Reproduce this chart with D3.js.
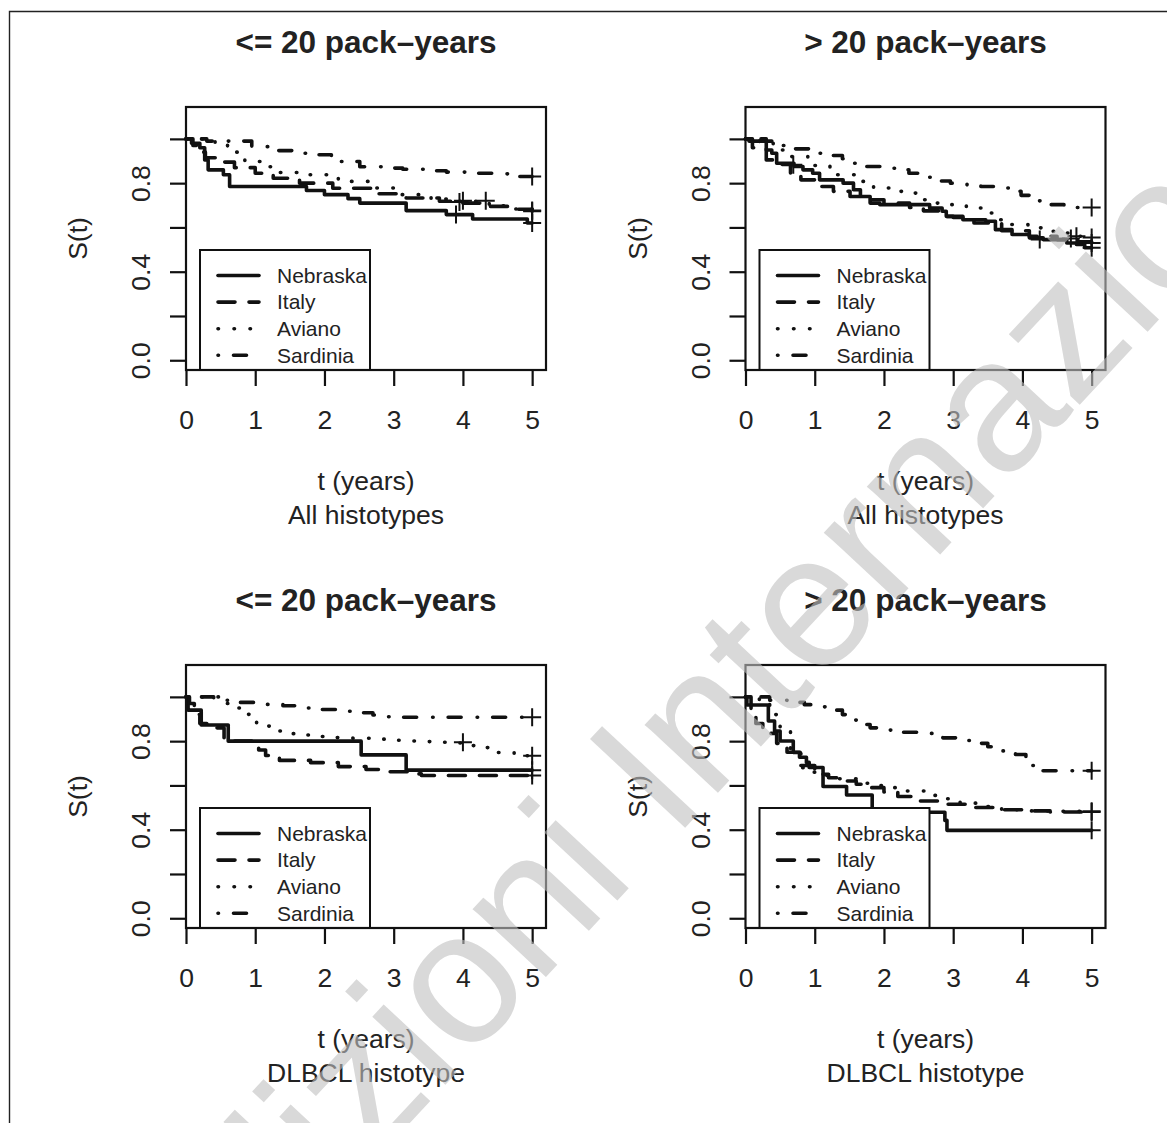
<!DOCTYPE html>
<html>
<head>
<meta charset="utf-8">
<script src="https://cdn.jsdelivr.net/npm/d3@7"></script>
<style>
  body { margin: 0; background: #fff; }
  text { font-family: "Liberation Sans", Arial, Helvetica, sans-serif; fill: #222; }
</style>
</head>
<body>
<svg id="chart" width="1167" height="1123"></svg>
<script>
(function(){
    "use strict";

    // ---- data ----
    var seriesNames = ["Nebraska", "Italy", "Aviano", "Sardinia"];
    var panelTitles = ["<= 20 pack\u2013years", "> 20 pack\u2013years", "<= 20 pack\u2013years", "> 20 pack\u2013years"];
    var panelSubtitles = ["All histotypes", "All histotypes", "DLBCL histotype", "DLBCL histotype"];
    var xTicks = [0, 1, 2, 3, 4, 5];
    var yTicks = [0, 0.2, 0.4, 0.6, 0.8, 1.0];
    var yTickLabels = [0, 0.4, 0.8];

    // all histotypes, <= 20 pack-years
    var allLe20Nebraska = [[0,1],[0.08,0.98],[0.2,0.96],[0.27,0.905],[0.32,0.86],[0.54,0.838],[0.63,0.785],[1.74,0.767],[2.0,0.748],[2.34,0.73],[2.51,0.71],[3.18,0.676],[3.76,0.658],[4.14,0.638],[4.93,0.62],[5,0.62]];
    var allLe20Italy = [[0,1],[0.1,0.97],[0.2,0.94],[0.28,0.915],[0.45,0.895],[0.7,0.87],[1.0,0.845],[1.26,0.822],[1.64,0.8],[2.12,0.777],[2.7,0.752],[3.18,0.733],[3.66,0.718],[3.95,0.71],[4.38,0.695],[4.7,0.682],[5,0.673]];
    var allLe20Aviano = [[0,1],[0.42,0.973],[0.6,0.94],[0.85,0.898],[1.07,0.874],[1.28,0.848],[1.74,0.838],[2.2,0.808],[2.65,0.778],[3.08,0.748],[3.54,0.728],[3.95,0.718],[4.38,0.698],[4.67,0.683],[5,0.677]];
    var allLe20Sardinia = [[0,1],[0.3,0.99],[0.95,0.965],[1.26,0.947],[1.6,0.935],[1.91,0.928],[2.1,0.915],[2.22,0.898],[2.51,0.874],[2.85,0.868],[3.13,0.863],[3.47,0.856],[3.76,0.85],[4.14,0.845],[4.43,0.842],[4.74,0.83],[5,0.83]];
    var allLe20Censored = [[[3.9,0.658],[5,0.62]], [[3.95,0.715],[5,0.673]], [[4.0,0.72],[4.33,0.72],[5,0.677]], [[5,0.83]]];

    // all histotypes, > 20 pack-years
    var allGt20Nebraska = [[0,1],[0.05,0.99],[0.3,0.95],[0.38,0.935],[0.45,0.89],[0.7,0.875],[0.83,0.86],[0.97,0.845],[1.07,0.815],[1.41,0.8],[1.56,0.77],[1.66,0.74],[1.8,0.71],[1.94,0.703],[2.66,0.688],[2.84,0.673],[2.9,0.65],[3.14,0.635],[3.47,0.628],[3.61,0.59],[3.85,0.568],[4.1,0.553],[4.3,0.545],[4.64,0.53],[4.78,0.523],[4.9,0.508],[5,0.508]];
    var allGt20Italy = [[0,1],[0.1,0.96],[0.3,0.905],[0.45,0.885],[0.65,0.84],[0.8,0.815],[1.0,0.785],[1.27,0.763],[1.51,0.74],[1.7,0.725],[2.0,0.71],[2.37,0.69],[2.57,0.675],[2.81,0.65],[3.0,0.645],[3.3,0.62],[3.7,0.585],[4.1,0.56],[4.5,0.545],[4.8,0.535],[5,0.53]];
    var allGt20Aviano = [[0,1],[0.2,0.985],[0.4,0.95],[0.62,0.92],[0.9,0.88],[1.22,0.838],[1.66,0.808],[1.85,0.778],[2.09,0.763],[2.3,0.755],[2.52,0.725],[2.76,0.71],[2.98,0.703],[3.19,0.688],[3.41,0.665],[3.63,0.635],[3.84,0.613],[4.08,0.598],[4.3,0.583],[4.52,0.575],[4.78,0.56],[5,0.555]];
    var allGt20Sardinia = [[0,1],[0.3,0.99],[0.5,0.97],[0.7,0.955],[0.97,0.935],[1.2,0.925],[1.4,0.91],[1.57,0.89],[1.74,0.875],[2.0,0.867],[2.2,0.86],[2.36,0.845],[2.6,0.827],[2.72,0.81],[2.96,0.8],[3.2,0.79],[3.4,0.785],[3.6,0.778],[3.82,0.763],[3.98,0.745],[4.18,0.72],[4.4,0.703],[4.6,0.69],[5,0.69]];
    var allGt20Censored = [[[0.69,0.883],[4.25,0.545],[5,0.508]], [[4.7,0.55],[5,0.53]], [[4.78,0.56],[5,0.555]], [[5,0.69]]];

    // DLBCL, <= 20 pack-years
    var dlbclLe20Nebraska = [[0,1],[0.03,0.94],[0.22,0.873],[0.61,0.8],[2.53,0.738],[3.18,0.669],[5,0.669]];
    var dlbclLe20Italy = [[0,1],[0.05,0.97],[0.12,0.92],[0.2,0.88],[0.3,0.86],[0.55,0.8],[0.97,0.785],[1.05,0.76],[1.15,0.735],[1.35,0.713],[1.8,0.703],[2.2,0.685],[2.6,0.672],[2.9,0.662],[3.2,0.652],[3.4,0.645],[5,0.645]];
    var dlbclLe20Aviano = [[0,1],[0.5,0.97],[0.7,0.95],[0.86,0.921],[1.02,0.868],[1.25,0.846],[1.47,0.834],[1.71,0.828],[1.93,0.821],[2.17,0.816],[2.41,0.813],[2.65,0.809],[2.87,0.804],[3.11,0.801],[3.35,0.798],[3.59,0.795],[3.8,0.792],[4.1,0.78],[4.29,0.771],[4.5,0.749],[4.74,0.734],[5,0.734]];
    var dlbclLe20Sardinia = [[0,1],[0.4,0.985],[0.6,0.975],[1.1,0.966],[1.4,0.96],[1.7,0.95],[1.95,0.943],[2.2,0.935],[2.4,0.928],[2.7,0.918],[2.9,0.91],[3.1,0.908],[5,0.908]];
    var dlbclLe20Censored = [[[5,0.669]], [[5,0.645]], [[4.0,0.795],[5,0.734]], [[5,0.908]]];

    // DLBCL, > 20 pack-years
    var dlbclGt20Nebraska = [[0,1],[0.02,0.963],[0.33,0.891],[0.42,0.846],[0.5,0.801],[0.69,0.749],[0.78,0.727],[0.88,0.704],[0.92,0.681],[1.12,0.595],[1.46,0.557],[1.83,0.479],[2.88,0.442],[2.91,0.397],[5,0.397]];
    var dlbclGt20Italy = [[0,1],[0.08,0.93],[0.15,0.88],[0.25,0.835],[0.45,0.79],[0.6,0.75],[0.8,0.69],[1.0,0.65],[1.2,0.635],[1.4,0.62],[1.6,0.605],[1.8,0.59],[2.0,0.57],[2.2,0.55],[2.5,0.53],[2.8,0.515],[3.2,0.5],[3.6,0.49],[4.0,0.485],[4.4,0.48],[5,0.48]];
    var dlbclGt20Aviano = [[0,1],[0.2,0.98],[0.35,0.92],[0.5,0.85],[0.65,0.76],[0.8,0.68],[0.9,0.66],[1.1,0.645],[1.3,0.63],[1.6,0.61],[1.9,0.6],[2.1,0.59],[2.3,0.575],[2.6,0.555],[2.9,0.54],[3.1,0.52],[3.4,0.505],[3.7,0.49],[4.0,0.485],[4.5,0.483],[5,0.483]];
    var dlbclGt20Sardinia = [[0,1],[0.35,0.985],[0.6,0.975],[0.85,0.965],[1.0,0.955],[1.2,0.94],[1.4,0.92],[1.5,0.895],[1.6,0.875],[1.8,0.86],[2.0,0.85],[2.2,0.84],[2.5,0.835],[2.7,0.826],[2.85,0.815],[3.05,0.803],[3.3,0.79],[3.5,0.775],[3.7,0.756],[3.9,0.74],[4.05,0.718],[4.12,0.69],[4.2,0.666],[5,0.666]];
    var dlbclGt20Censored = [[[5,0.397]], [[5,0.48]], [[5,0.483]], [[5,0.666]]];

    var panels = [
        { curves: [allLe20Nebraska, allLe20Italy, allLe20Aviano, allLe20Sardinia], censored: allLe20Censored },
        { curves: [allGt20Nebraska, allGt20Italy, allGt20Aviano, allGt20Sardinia], censored: allGt20Censored },
        { curves: [dlbclLe20Nebraska, dlbclLe20Italy, dlbclLe20Aviano, dlbclLe20Sardinia], censored: dlbclLe20Censored },
        { curves: [dlbclGt20Nebraska, dlbclGt20Italy, dlbclGt20Aviano, dlbclGt20Sardinia], censored: dlbclGt20Censored }
    ];

    // ---- layout ----
    var plotW = 360, plotH = 263;
    var lefts = [186, 745.5];
    var tops = [107, 665];
    var dashes = ["none", "17,14", "0.5,15.5", "0.5,15,13,16"];
    var ink = "#111";

    var svg = d3.select("#chart");

    // outer frame (only top and left edges are inside the picture)
    svg.append("path")
        .attr("d", "M9.5,1123 V11.5 H1167")
        .attr("fill", "none")
        .attr("stroke", "#222")
        .attr("stroke-width", 1.4);

    panels.forEach(function(panel, i) {
        var left = lefts[i % 2];
        var top = tops[Math.floor(i / 2)];

        var x = d3.scaleLinear().domain([0, 5.2]).range([left, left + plotW]);
        var y = d3.scaleLinear().domain([-0.044, 1.144]).range([top + plotH, top]);

        var g = svg.append("g");

        // curves
        var line = d3.line()
            .x(function(d) { return x(d[0]); })
            .y(function(d) { return y(d[1]); })
            .curve(d3.curveStepAfter);

        panel.curves.forEach(function(curve, k) {
            g.append("path")
                .datum(curve)
                .attr("d", line)
                .attr("fill", "none")
                .attr("stroke", ink)
                .attr("stroke-width", 3.6)
                .attr("stroke-linecap", "round")
                .attr("stroke-linejoin", "round")
                .attr("stroke-dasharray", dashes[k]);
        });

        // censoring marks
        panel.censored.forEach(function(marks) {
            g.selectAll(null)
                .data(marks)
                .enter()
                .append("path")
                .attr("d", function(d) {
                    var cx = x(d[0]), cy = y(d[1]);
                    return "M" + (cx - 9) + "," + cy + "H" + (cx + 9) + "M" + cx + "," + (cy - 9) + "V" + (cy + 9);
                })
                .attr("stroke", ink)
                .attr("stroke-width", 2);
        });

        // legend
        var legend = g.append("g");
        var legTop = top + 143;
        legend.append("rect")
            .attr("x", left + 14)
            .attr("y", legTop)
            .attr("width", 170)
            .attr("height", plotH - 143)
            .attr("fill", "#fff")
            .attr("stroke", ink)
            .attr("stroke-width", 2);

        seriesNames.forEach(function(name, k) {
            var ry = legTop + 25.5 + k * 26.6;
            legend.append("line")
                .attr("x1", left + 32).attr("x2", left + 73)
                .attr("y1", ry).attr("y2", ry)
                .attr("stroke", ink)
                .attr("stroke-width", 3.6)
                .attr("stroke-linecap", "round")
                .attr("stroke-dasharray", dashes[k]);
            legend.append("text")
                .attr("x", left + 91)
                .attr("y", ry)
                .attr("dy", "0.35em")
                .style("font-size", "21px")
                .text(name);
        });

        // box
        g.append("rect")
            .attr("x", left).attr("y", top)
            .attr("width", plotW).attr("height", plotH)
            .attr("fill", "none")
            .attr("stroke", ink)
            .attr("stroke-width", 2.2);

        // axes
        var xAxis = g.append("g")
            .attr("transform", "translate(0," + (top + plotH) + ")")
            .call(d3.axisBottom(x).tickValues(xTicks).tickSize(16).tickSizeOuter(0).tickPadding(24).tickFormat(d3.format("d")));
        var yAxis = g.append("g")
            .attr("transform", "translate(" + left + ",0)")
            .call(d3.axisLeft(y).tickValues(yTicks).tickSize(16).tickSizeOuter(0)
                .tickFormat(function(d) {
                    return yTickLabels.indexOf(d) >= 0 ? d3.format(".1f")(d) : "";
                }));

        [xAxis, yAxis].forEach(function(ax) {
            ax.select(".domain").remove();
            ax.selectAll(".tick line").attr("stroke", ink).attr("stroke-width", 2.2);
            ax.selectAll("text").attr("fill", "#222").style("font-size", "26.5px")
                .style("font-family", "'Liberation Sans', Arial, sans-serif");
        });

        yAxis.selectAll(".tick text")
            .attr("transform", "rotate(-90)")
            .attr("x", 0)
            .attr("y", -36)
            .attr("dy", 0)
            .attr("text-anchor", "middle");

        var cx = left + plotW / 2;
        var cy = top + plotH / 2;

        g.append("text")
            .attr("x", cx).attr("y", top - 54)
            .attr("text-anchor", "middle")
            .style("font-size", "31.5px")
            .style("font-weight", "bold")
            .text(panelTitles[i]);

        g.append("text")
            .attr("x", cx).attr("y", top + plotH + 120)
            .attr("text-anchor", "middle")
            .style("font-size", "26.5px")
            .text("t (years)");

        g.append("text")
            .attr("x", cx).attr("y", top + plotH + 154)
            .attr("text-anchor", "middle")
            .style("font-size", "26.5px")
            .text(panelSubtitles[i]);

        g.append("text")
            .attr("transform", "translate(" + (left - 99) + "," + cy + ") rotate(-90)")
            .attr("text-anchor", "middle")
            .style("font-size", "26.5px")
            .text("S(t)");
    });

    // publisher watermark laid over the figure
    svg.append("text")
        .attr("transform", "translate(186,1363) rotate(-47)")
        .style("font-size", "189px")
        .style("fill", "#c0c0c0")
        .style("opacity", 0.6)
        .text("Edizioni Internazionali");
})();
</script>
</body>
</html>
